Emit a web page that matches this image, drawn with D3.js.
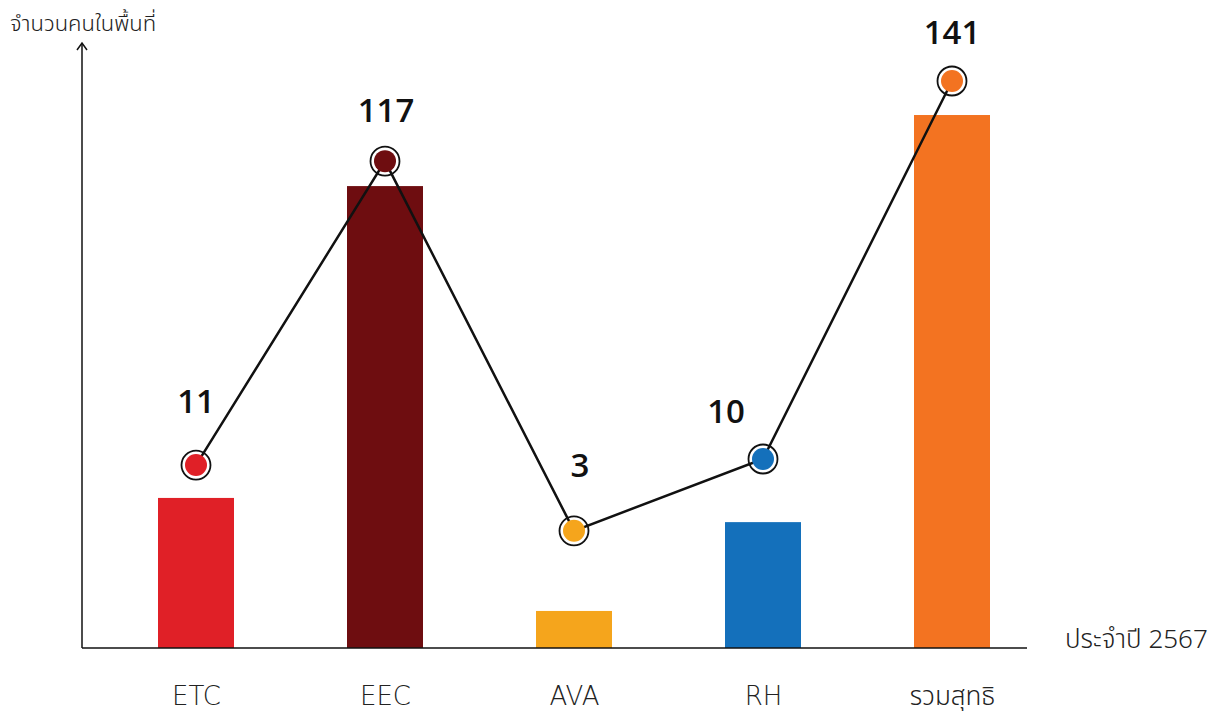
<!DOCTYPE html>
<html><head><meta charset="utf-8">
<script src="https://cdn.jsdelivr.net/npm/d3@7/dist/d3.min.js"></script>
<style>
body{margin:0;background:#fff;}
svg{display:block;}
</style></head>
<body>
<script>
// Data
const categories = ["ETC", "EEC", "AVA", "RH", "รวมสุทธิ"];
const valueLabels = ["11", "117", "3", "10", "141"];
// bar heights and marker heights as drawn (visual units on the chart's own scale)
const barValues = [39.7, 122.2, 9.8, 33.3, 141];
const pointValues = [48.4, 128.8, 31, 50, 150];
const colors = ["#e02027", "#6e0d10", "#f5a51c", "#1470bb", "#f37321"];
const yTitle = "จำนวนคนในพื้นที่";
const xTitle = "ประจำปี 2567";

const W = 1221, H = 711;
const svg = d3.select("body").append("svg").attr("width", W).attr("height", H);

const baseY = 648, axisX = 82;
const x = d3.scalePoint().domain(categories).range([196, 952]);
const y = d3.scaleLinear().domain([0, 150]).range([baseY, 81]);
const barW = 76;
const thaiFont = "'Noto Sans Thai', 'Noto Sans', sans-serif";
const tickFont = "'DejaVu Sans', 'Noto Sans Thai', sans-serif";

// bars
svg.selectAll("rect.bar").data(categories).join("rect")
  .attr("x", d => x(d) - barW / 2)
  .attr("y", (d, i) => y(barValues[i]))
  .attr("width", barW)
  .attr("height", (d, i) => baseY - y(barValues[i]))
  .attr("fill", (d, i) => colors[i]);

// axes
const xAxis = d3.axisBottom(x).tickSize(0).tickPadding(39);
const gx = svg.append("g").attr("transform", `translate(0,${baseY})`).call(xAxis);
gx.select(".domain").remove();
gx.append("line").attr("x1", axisX).attr("x2", 1027).attr("stroke", "#111").attr("stroke-width", 1.5);
gx.selectAll(".tick text")
  .attr("font-family", tickFont)
  .attr("font-weight", 300)
  .attr("font-size", 26).attr("fill", "#222");

svg.append("line").attr("x1", axisX).attr("x2", axisX).attr("y1", baseY).attr("y2", 44)
  .attr("stroke", "#111").attr("stroke-width", 1.5);
svg.append("path").attr("d", `M${axisX - 5},${50} L${axisX},${43} L${axisX + 5},${50}`)
  .attr("fill", "none").attr("stroke", "#111").attr("stroke-width", 1.5);

svg.append("text").attr("x", 10).attr("y", 31).text(yTitle)
  .attr("font-family", thaiFont).attr("font-weight", 300)
  .attr("font-size", 22).attr("fill", "#222");
svg.append("text").attr("x", 1065).attr("y", 648).text(xTitle)
  .attr("font-family", thaiFont).attr("font-weight", 300)
  .attr("font-size", 26).attr("fill", "#222");

// markers outer ring
svg.selectAll("circle.outer").data(categories).join("circle")
  .attr("cx", d => x(d)).attr("cy", (d, i) => y(pointValues[i]))
  .attr("r", 14.5).attr("fill", "#fff").attr("stroke", "#111").attr("stroke-width", 1.8);

// line
const line = d3.line().x(d => x(d)).y((d, i) => y(pointValues[i]));
svg.append("path").datum(categories).attr("d", line)
  .attr("fill", "none").attr("stroke", "#111").attr("stroke-width", 2.5);

// inner markers
svg.selectAll("circle.inner").data(categories).join("circle")
  .attr("cx", d => x(d)).attr("cy", (d, i) => y(pointValues[i]))
  .attr("r", 11).attr("fill", (d, i) => colors[i]);

// value labels
const labelDx = [0, 1, 6, -37, 0];
const labelDy = [-52, -39, -54, -36, -37];
svg.selectAll("text.val").data(categories).join("text")
  .attr("x", (d, i) => x(d) + labelDx[i])
  .attr("y", (d, i) => y(pointValues[i]) + labelDy[i])
  .attr("text-anchor", "middle")
  .attr("font-family", "'Open Sans', sans-serif").attr("font-weight", 600)
  .attr("font-size", 33).attr("fill", "#111")
  .text((d, i) => valueLabels[i]);
</script>
</body></html>
